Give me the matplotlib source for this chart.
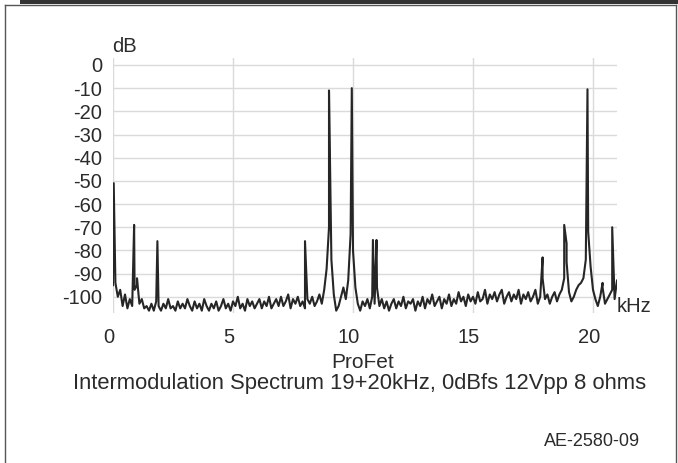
import numpy as np
import matplotlib
matplotlib.use("Agg")
import matplotlib.pyplot as plt
from matplotlib.lines import Line2D
from matplotlib.patches import Rectangle
from matplotlib.transforms import ScaledTranslation

plt.rcParams['font.family'] = ['Liberation Sans', 'DejaVu Sans']

# noise floor, one value every 0.1 kHz from 0 to 21 kHz (dB)
floor_db = [
    -95, -94, -100, -97, -104, -99, -105, -101, -104, -97,
    -95, -103, -101, -105, -104, -106, -103, -106, -102, -104,
    -106, -103, -105, -101, -105, -104, -106, -102, -105, -103,
    -105, -101, -104, -106, -102, -105, -103, -106, -101, -104,
    -106, -103, -105, -102, -106, -104, -101, -105, -103, -106,
    -102, -104, -100, -105, -103, -106, -101, -104, -102, -105,
    -103, -101, -105, -102, -104, -100, -105, -103, -101, -104,
    -100, -104, -102, -99, -105, -101, -103, -100, -104, -102,
    -105, -101, -103, -100, -104, -102, -99, -103, -97, -88,
    -70, -84, -99, -106, -104, -100, -96, -101, -93, -73,
    -80, -96, -103, -106, -102, -104, -101, -105, -100, -103,
    -96, -104, -101, -105, -102, -106, -103, -101, -105, -102,
    -104, -100, -105, -102, -103, -101, -106, -102, -104, -100,
    -105, -101, -103, -99, -104, -102, -100, -105, -101, -103,
    -99, -104, -101, -103, -98, -102, -100, -104, -99, -102,
    -100, -103, -98, -102, -101, -97, -103, -99, -101, -98,
    -102, -99, -97, -103, -100, -98, -102, -99, -101, -97,
    -103, -99, -101, -98, -102, -100, -97, -103, -100, -92,
    -101, -99, -103, -100, -98, -102, -99, -97, -92, -85,
    -98, -102, -100, -97, -95, -94, -92, -84, -72, -87,
    -97, -101, -104, -100, -96, -103, -101, -99, -97, -101,
    -93,
]
floor_khz = np.linspace(0, 21, len(floor_db))

# discrete spectral lines
peak_khz = [0.03, 0.88, 1.0, 1.85, 8.0, 9.0, 9.95, 10.83, 10.98,
            17.9, 18.8, 18.9, 19.77, 20.4, 20.8]
peak_db = [-51, -69, -92, -76, -76, -11, -10, -75.5, -75.5,
           -83, -69, -77, -10.5, -94, -70]

x_ticks = [0, 5, 10, 15, 20]
y_ticks = [0, -10, -20, -30, -40, -50, -60, -70, -80, -90, -100]

freq = np.concatenate([floor_khz, peak_khz])
level = np.concatenate([floor_db, peak_db])
order = np.argsort(freq, kind='stable')

txt = '#2b2b2b'

fig = plt.figure(figsize=(6.78, 4.63), dpi=100)
ax = fig.add_axes([113/678, 1 - 313/463, 504/678, 255/463])

ax.plot(freq[order], level[order], color='#262626', lw=1.5)

ax.set_xlim(0, 21)
ax.set_ylim(-107, 3)
ax.set_xticks(x_ticks)
ax.set_yticks(y_ticks)
ax.set_yticklabels([str(v) for v in y_ticks])
ax.grid(True, color='#dadada', lw=1)
ax.set_axisbelow(True)
for s in ax.spines.values():
    s.set_visible(False)
ax.tick_params(length=0, labelsize=14.5, labelcolor=txt)
ax.tick_params(axis='y', pad=8)
ax.tick_params(axis='x', pad=11)
shift = ScaledTranslation(-4/100, 0, fig.dpi_scale_trans)
for lab in ax.get_xticklabels():
    lab.set_transform(lab.get_transform() + shift)

fig.text(112/678, 1 - 47/463, 'dB', fontsize=14.5, color=txt, va='center', ha='left')
fig.text(617/678, 1 - 307/463, 'kHz', fontsize=14.5, color=txt, va='center', ha='left')
fig.text(363/678, 1 - 362/463, 'ProFet', fontsize=15, color=txt, va='center', ha='center')
fig.text(360/678, 1 - 383/463, 'Intermodulation Spectrum 19+20kHz, 0dBfs 12Vpp 8 ohms',
         fontsize=15.8, color=txt, va='center', ha='center')
fig.text(640/678, 1 - 441/463, 'AE-2580-09', fontsize=13, color=txt, va='center', ha='right',
         family=['Liberation Sans Narrow', 'Liberation Sans'])

# frame around the figure
fig.add_artist(Rectangle((20/678, 1 - 4/463), 1 - 20/678, 4/463, transform=fig.transFigure,
                         color='#333333', lw=0))
fig.add_artist(Line2D([5/678, 5/678], [0, 1 - 5/463], transform=fig.transFigure, color='#555555', lw=1))
fig.add_artist(Line2D([5/678, 676/678], [1 - 5/463, 1 - 5/463], transform=fig.transFigure, color='#555555', lw=1))
fig.add_artist(Line2D([676/678, 676/678], [0, 1 - 5/463], transform=fig.transFigure, color='#555555', lw=1))

fig.savefig('out.png', dpi=100)
